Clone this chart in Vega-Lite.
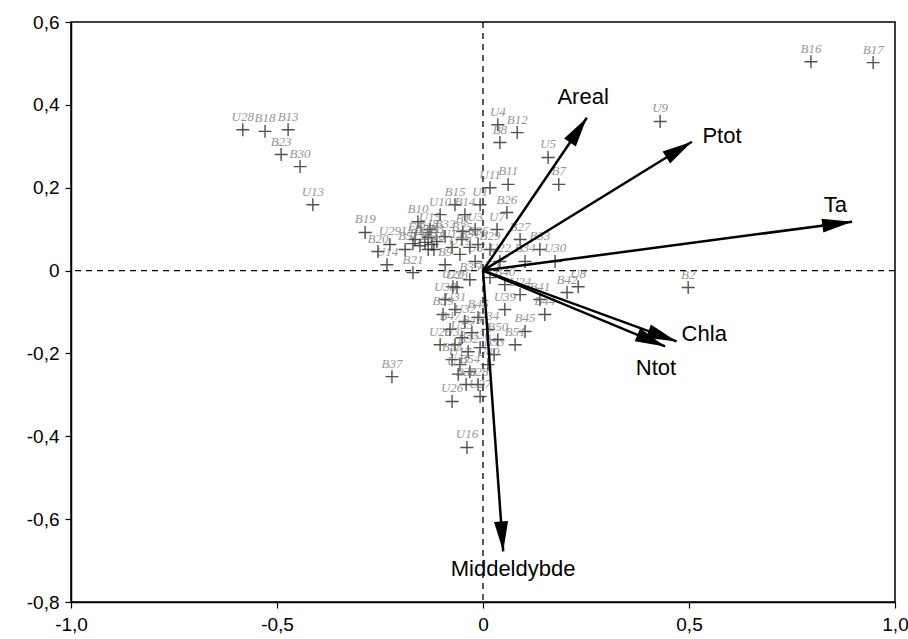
{
  "$schema": "https://vega.github.io/schema/vega-lite/v6.json",
  "width": 824,
  "height": 580,
  "autosize": {"type": "none"},
  "padding": {"left": 71, "top": 22, "right": 13, "bottom": 37},
  "background": "white",
  "config": {
    "view": {"stroke": "black", "strokeWidth": 1.5},
    "axis": {
      "domainColor": "black", "domainWidth": 1.5, "tickColor": "black", "tickWidth": 1.2,
      "tickSize": 6, "labelFont": "Liberation Sans", "labelFontSize": 19, "labelColor": "black",
      "grid": false
    }
  },
  "datasets": {
    "sites": [
      {"id": "U28", "x": -0.583, "y": 0.340}, {"id": "B18", "x": -0.529, "y": 0.336}, {"id": "B13", "x": -0.473, "y": 0.340},
      {"id": "B23", "x": -0.490, "y": 0.280}, {"id": "B30", "x": -0.444, "y": 0.251}, {"id": "U13", "x": -0.413, "y": 0.159},
      {"id": "B19", "x": -0.286, "y": 0.092}, {"id": "U14", "x": -0.233, "y": 0.014}, {"id": "B21", "x": -0.170, "y": -0.005},
      {"id": "F3", "x": -0.165, "y": 0.075}, {"id": "B5", "x": -0.189, "y": 0.051}, {"id": "B22", "x": -0.141, "y": 0.068},
      {"id": "B4", "x": -0.124, "y": 0.063}, {"id": "B3", "x": -0.112, "y": 0.070}, {"id": "B6", "x": -0.133, "y": 0.051},
      {"id": "B32", "x": -0.092, "y": 0.082}, {"id": "U12", "x": -0.075, "y": 0.056}, {"id": "B25", "x": -0.051, "y": 0.075},
      {"id": "U19", "x": -0.056, "y": 0.039}, {"id": "B31", "x": -0.032, "y": 0.056}, {"id": "U20", "x": -0.073, "y": -0.039},
      {"id": "B10", "x": -0.158, "y": 0.118}, {"id": "U10", "x": -0.104, "y": 0.135}, {"id": "B1", "x": -0.049, "y": 0.094},
      {"id": "U3", "x": -0.019, "y": 0.099}, {"id": "U6", "x": -0.019, "y": 0.022}, {"id": "B9", "x": -0.092, "y": 0.014},
      {"id": "B12", "x": 0.083, "y": 0.333}, {"id": "B8", "x": 0.041, "y": 0.309}, {"id": "U4", "x": 0.036, "y": 0.352},
      {"id": "B7", "x": 0.184, "y": 0.208}, {"id": "U5", "x": 0.158, "y": 0.273}, {"id": "U11", "x": 0.017, "y": 0.200},
      {"id": "B11", "x": 0.061, "y": 0.208}, {"id": "B26", "x": 0.058, "y": 0.140}, {"id": "U7", "x": 0.034, "y": 0.099},
      {"id": "B27", "x": 0.090, "y": 0.075}, {"id": "B33", "x": 0.138, "y": 0.051}, {"id": "U30", "x": 0.175, "y": 0.022},
      {"id": "B29", "x": 0.017, "y": 0.051}, {"id": "U22", "x": 0.041, "y": 0.022}, {"id": "B34", "x": 0.102, "y": 0.022},
      {"id": "U23", "x": -0.063, "y": -0.041}, {"id": "B35", "x": -0.032, "y": -0.022}, {"id": "U21", "x": 0.017, "y": -0.017},
      {"id": "B40", "x": 0.053, "y": -0.034}, {"id": "U24", "x": 0.090, "y": -0.058}, {"id": "B41", "x": 0.138, "y": -0.070},
      {"id": "U8", "x": 0.231, "y": -0.039}, {"id": "B42", "x": 0.204, "y": -0.053}, {"id": "B44", "x": 0.150, "y": -0.106},
      {"id": "B45", "x": 0.102, "y": -0.147}, {"id": "B51", "x": 0.078, "y": -0.179}, {"id": "B39", "x": -0.097, "y": -0.106},
      {"id": "U31", "x": -0.068, "y": -0.094}, {"id": "U32", "x": -0.044, "y": -0.123}, {"id": "B46", "x": -0.012, "y": -0.113},
      {"id": "B47", "x": -0.080, "y": -0.142}, {"id": "U33", "x": -0.051, "y": -0.162}, {"id": "B49", "x": -0.027, "y": -0.150},
      {"id": "U34", "x": 0.012, "y": -0.142}, {"id": "B50", "x": 0.036, "y": -0.167}, {"id": "U35", "x": -0.068, "y": -0.179},
      {"id": "B52", "x": -0.036, "y": -0.196}, {"id": "U36", "x": -0.007, "y": -0.186}, {"id": "B53", "x": 0.027, "y": -0.203},
      {"id": "U17", "x": -0.056, "y": -0.227}, {"id": "B54", "x": -0.032, "y": -0.244}, {"id": "U37", "x": -0.060, "y": -0.250},
      {"id": "B28", "x": -0.012, "y": -0.275}, {"id": "B38", "x": -0.041, "y": -0.275}, {"id": "U27", "x": -0.007, "y": -0.304},
      {"id": "B37", "x": -0.221, "y": -0.256}, {"id": "U16", "x": -0.039, "y": -0.427}, {"id": "U38", "x": -0.092, "y": -0.070},
      {"id": "U39", "x": 0.053, "y": -0.094}, {"id": "U25", "x": -0.104, "y": -0.179}, {"id": "B55", "x": -0.075, "y": -0.215},
      {"id": "U40", "x": 0.012, "y": -0.227}, {"id": "U26", "x": -0.075, "y": -0.316}, {"id": "B2", "x": 0.498, "y": -0.041},
      {"id": "U9", "x": 0.430, "y": 0.360}, {"id": "B16", "x": 0.796, "y": 0.504}, {"id": "B17", "x": 0.947, "y": 0.502},
      {"id": "B14", "x": -0.044, "y": 0.135}, {"id": "U1", "x": -0.007, "y": 0.159}, {"id": "B15", "x": -0.068, "y": 0.159},
      {"id": "U15", "x": -0.129, "y": 0.099}, {"id": "U29", "x": -0.226, "y": 0.063}, {"id": "B20", "x": -0.255, "y": 0.046},
      {"id": "B36", "x": -0.012, "y": 0.063}, {"id": "B43", "x": -0.153, "y": 0.060}, {"id": "B48", "x": -0.133, "y": 0.080},
      {"id": "U18", "x": -0.119, "y": 0.051}, {"id": "U41", "x": -0.170, "y": 0.065}
    ],
    "vars": [
      {"name": "Areal", "x": 0.252, "y": 0.369, "lx": 0.243, "ly": 0.418},
      {"name": "Ptot", "x": 0.507, "y": 0.311, "lx": 0.580, "ly": 0.326},
      {"name": "Ta", "x": 0.896, "y": 0.118, "lx": 0.855, "ly": 0.159},
      {"name": "Chla", "x": 0.470, "y": -0.171, "lx": 0.537, "ly": -0.154},
      {"name": "Ntot", "x": 0.442, "y": -0.183, "lx": 0.420, "ly": -0.234},
      {"name": "Middeldybde", "x": 0.049, "y": -0.678, "lx": 0.073, "ly": -0.721}
    ],
    "zero": [{"z": 0}]
  },
  "layer": [
    {
      "data": {"name": "zero"},
      "mark": {"type": "rule", "strokeDash": [6, 5], "strokeWidth": 1.3, "color": "black"},
      "encoding": {"x": {"field": "z", "type": "quantitative", "scale": {"domain": [-1, 1], "nice": false, "zero": false},
          "axis": {"title": null, "values": [-1, -0.5, 0, 0.5, 1], "labelPadding": 7, "labelFlush": false,
            "labelExpr": "datum.value == 0 ? '0' : (datum.value < 0 ? '-' : '') + replace(format(abs(datum.value), '.1f'), '.', ',')"}}}
    },
    {
      "data": {"name": "zero"},
      "mark": {"type": "rule", "strokeDash": [6, 5], "strokeWidth": 1.3, "color": "black"},
      "encoding": {"y": {"field": "z", "type": "quantitative", "scale": {"domain": [-0.8, 0.6], "nice": false, "zero": false},
          "axis": {"title": null, "values": [-0.8, -0.6, -0.4, -0.2, 0, 0.2, 0.4, 0.6], "labelPadding": 6, "labelFlush": false,
            "labelExpr": "datum.value == 0 ? '0' : (datum.value < 0 ? '-' : '') + replace(format(abs(datum.value), '.1f'), '.', ',')"}}}
    },
    {
      "data": {"name": "sites"},
      "mark": {"type": "point", "shape": "M-1,0L1,0M0,-1L0,1", "filled": false, "stroke": "#333333", "strokeWidth": 1.4, "size": 169, "opacity": 0.85},
      "encoding": {
        "x": {"field": "x", "type": "quantitative"},
        "y": {"field": "y", "type": "quantitative"}
      }
    },
    {
      "data": {"name": "sites"},
      "mark": {"type": "text", "dy": -13, "font": "Liberation Serif", "fontStyle": "italic", "fontSize": 13, "color": "#6a6a6a", "fill": "#6a6a6a", "opacity": 0.7},
      "encoding": {
        "x": {"field": "x", "type": "quantitative"},
        "y": {"field": "y", "type": "quantitative"},
        "text": {"field": "id"}
      }
    },
    {
      "data": {"name": "vars"},
      "mark": {"type": "rule", "strokeWidth": 2.5, "color": "black"},
      "encoding": {
        "x": {"field": "x", "type": "quantitative"},
        "y": {"field": "y", "type": "quantitative"},
        "x2": {"datum": 0},
        "y2": {"datum": 0}
      }
    },
    {
      "data": {"name": "vars"},
      "transform": [{"calculate": "atan2(datum.x * 412, datum.y * 414.3) * 180 / PI", "as": "ang"}],
      "mark": {"type": "point", "shape": "M0,0L0.47,2L-0.47,2Z", "filled": true, "color": "black", "size": 900, "opacity": 1},
      "encoding": {
        "x": {"field": "x", "type": "quantitative"},
        "y": {"field": "y", "type": "quantitative"},
        "angle": {"field": "ang", "type": "quantitative", "scale": null}
      }
    },
    {
      "data": {"name": "vars"},
      "mark": {"type": "text", "font": "Liberation Sans", "fontSize": 22, "color": "black", "align": "center", "baseline": "middle"},
      "encoding": {
        "x": {"field": "lx", "type": "quantitative"},
        "y": {"field": "ly", "type": "quantitative"},
        "text": {"field": "name"}
      }
    }
  ]
}
